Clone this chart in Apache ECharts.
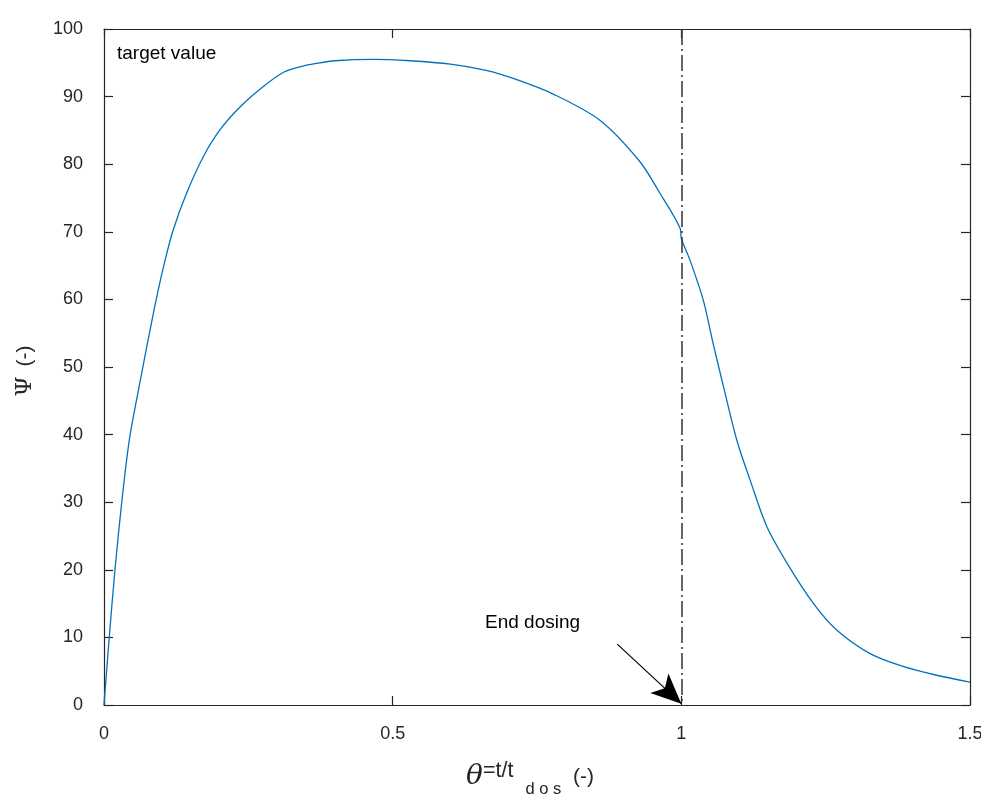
<!DOCTYPE html>
<html>
<head>
<meta charset="utf-8">
<script src="https://cdn.jsdelivr.net/npm/echarts@6/dist/echarts.min.js"></script>
<style>html,body{margin:0;padding:0;background:#fff;overflow:hidden}#c{position:absolute;left:0;top:0;width:981px;height:795px}</style>
</head>
<body>
<div id="c"></div>
<script>
// Data
const thetaValues = [0, 0.0092, 0.019, 0.0306, 0.044, 0.0615, 0.0854, 0.103, 0.120, 0.143, 0.172, 0.201, 0.236, 0.276, 0.311, 0.339, 0.368, 0.40, 0.466, 0.53, 0.60, 0.66, 0.715, 0.78, 0.859, 0.928, 0.963, 0.998, 1.0, 1.015, 1.038, 1.055, 1.073, 1.096, 1.119, 1.148, 1.183, 1.229, 1.269, 1.327, 1.384, 1.442, 1.5];
const psiValues   = [0, 10.1, 20, 29.9, 39.3, 47.4, 57.9, 64.8, 70.3, 75.7, 81.1, 85.1, 88.5, 91.5, 93.6, 94.4, 94.9, 95.3, 95.5, 95.3, 94.8, 93.9, 92.5, 90.3, 86.5, 80.4, 75.7, 70.5, 69.0, 65.8, 59.9, 53.5, 47.1, 39.2, 33.3, 26.4, 21.0, 15.0, 11.1, 7.6, 5.7, 4.4, 3.4];
const endDosingTheta = 1.0;
const arrowStart = [0.889, 9.0];
const arrowEnd = [1.0, 0.2];
const xTicks = { min: 0, max: 1.5, interval: 0.5 };
const yTicks = { min: 0, max: 100, interval: 10 };

const axisColor = '#262626';
const font = 'Liberation Sans, Arial, Helvetica, sans-serif';

const chart = echarts.init(document.getElementById('c'), null, { renderer: 'canvas', width: 981, height: 795 });
const seriesData = thetaValues.map((t, i) => [t, psiValues[i]]);

function baseAxis() {
  return {
    axisLine: { show: true, onZero: false, lineStyle: { color: axisColor, width: 1.2 } },
    axisTick: { show: true, inside: true, length: 9, lineStyle: { color: axisColor, width: 1.2 } },
    splitLine: { show: false }
  };
}

chart.setOption({
  animation: false,
  backgroundColor: '#ffffff',
  grid: { left: 104, right: 11, top: 29, bottom: 90, containLabel: false, outerBoundsMode: 'none' },
  xAxis: [
    Object.assign(baseAxis(), {
      type: 'value', position: 'bottom', min: xTicks.min, max: xTicks.max, interval: xTicks.interval,
      axisLabel: { color: axisColor, fontSize: 18, fontFamily: font, margin: 20,
        formatter: v => String(v) },
      name: '{th|θ}{sup|=t/t}{gap| }{sub|d o s}{n|  (-)}',
      nameLocation: 'middle', nameGap: 52,
      nameTextStyle: {
        padding: [0, 14, 0, 0],
        rich: {
          th: { fontFamily: 'DejaVu Serif, Liberation Serif, serif', fontStyle: 'italic', fontSize: 28, color: axisColor, lineHeight: 40 },
          sup: { fontFamily: font, fontSize: 21.5, color: axisColor, padding: [0, 0, 12, 0], lineHeight: 40 },
          gap: { fontSize: 16, width: 12 },
          sub: { fontFamily: font, fontSize: 16.5, color: axisColor, padding: [24, 0, 0, 0], lineHeight: 40 },
          n: { fontFamily: font, fontSize: 21, color: axisColor, lineHeight: 40 }
        }
      }
    }),
    Object.assign(baseAxis(), {
      type: 'value', position: 'top', min: xTicks.min, max: xTicks.max, interval: xTicks.interval,
      axisLabel: { show: false }
    })
  ],
  yAxis: [
    Object.assign(baseAxis(), {
      type: 'value', position: 'left', min: yTicks.min, max: yTicks.max, interval: yTicks.interval,
      axisLabel: { color: axisColor, fontSize: 18, fontFamily: font, margin: 21 },
      name: '{p|Ψ}   {n|(-)}', nameLocation: 'middle', nameGap: 67, nameRotate: 90,
      nameTextStyle: {
        padding: [0, 8, 0, 0],
        rich: {
          p: { fontFamily: 'DejaVu Serif, Liberation Serif, serif', fontSize: 23, color: axisColor },
          n: { fontFamily: font, fontSize: 21, color: axisColor }
        }
      }
    }),
    Object.assign(baseAxis(), {
      type: 'value', position: 'right', min: yTicks.min, max: yTicks.max, interval: yTicks.interval,
      axisLabel: { show: false }
    })
  ],
  series: [
    {
      type: 'line',
      data: seriesData,
      xAxisIndex: 0, yAxisIndex: 0,
      showSymbol: false,
      smooth: 0.3,
      lineStyle: { color: '#0072BD', width: 1.3 },
      markLine: {
        silent: true,
        animation: false,
        label: { show: false },
        data: [
          [
            { coord: [endDosingTheta, yTicks.max], symbol: 'none', lineStyle: { color: '#333333', width: 1.5, type: [16, 4, 2, 4] } },
            { coord: [endDosingTheta, yTicks.min], symbol: 'none' }
          ],
          [
            { coord: arrowStart, symbol: 'none', lineStyle: { color: '#000000', width: 1.2, type: 'solid' } },
            { coord: arrowEnd, symbol: 'arrow', symbolSize: [20, 30] }
          ]
        ]
      }
    }
  ],
  graphic: [
    { type: 'text', x: 117, y: 54, style: { text: 'target value', fill: '#000', fontSize: 19, fontFamily: font, verticalAlign: 'middle' } },
    { type: 'text', x: 485, y: 623, style: { text: 'End dosing', fill: '#000', fontSize: 19, fontFamily: font, verticalAlign: 'middle' } }
  ]
});
</script>
</body>
</html>
